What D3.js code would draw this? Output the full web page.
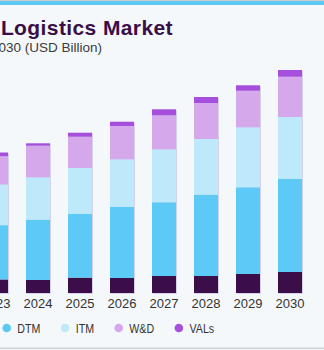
<!DOCTYPE html>
<html>
<head>
<meta charset="utf-8">
<script src="https://cdn.jsdelivr.net/npm/d3@7"></script>
<style>
    body { margin: 0; background: #f4f8fb; overflow: hidden; }
    #chart { width: 324px; height: 350px; }
</style>
</head>
<body>
<div id="chart"></div>
<script>
// market size by service, USD billion
const years = ["2023", "2024", "2025", "2026", "2027", "2028", "2029", "2030"];
const services = ["DCC", "DTM", "ITM", "W&D", "VALs"];
const dcc  = [27.0, 26.0, 30.6, 30.0, 34.0, 34.0, 38.0, 42.0];
const dtm  = [108.6, 120.6, 127.4, 142.0, 147.4, 162.6, 173.4, 186.0];
const itm  = [81.4, 84.8, 92.0, 95.4, 106.0, 111.4, 120.0, 124.0];
const wd   = [56.6, 63.2, 62.6, 66.6, 68.0, 72.0, 73.2, 80.6];
const vals = [7.4, 4.8, 8.0, 8.6, 12.0, 12.0, 10.8, 13.4];

const title = "U.S. Outsourced Logistics Market";
const subtitle = "size, by service, 2018 - 2030 (USD Billion)";

const colors = ["#3a0f48", "#5bc9f6", "#bee9fa", "#d5a8ec", "#a650dc"];

let rows = years.map((y, i) => ({
    year: y, "DCC": dcc[i], "DTM": dtm[i], "ITM": itm[i], "W&D": wd[i], "VALs": vals[i]
}));

let width = 324, height = 350;

let svg = d3.select("#chart").append("svg")
    .attr("width", width)
    .attr("height", height);

// drop shadow on the bars
let defs = svg.append("defs");
defs.append("filter")
    .attr("id", "barShadow")
    .attr("x", "-20%").attr("y", "-20%")
    .attr("width", "140%").attr("height", "140%")
    .append("feDropShadow")
    .attr("dx", 1).attr("dy", 1)
    .attr("stdDeviation", 0.6)
    .attr("flood-color", "#9c88c9")
    .attr("flood-opacity", 0.35);

// top accent band and bottom rule
svg.append("rect").attr("x", 0).attr("y", 0).attr("width", width).attr("height", 1).attr("fill", "#c9ccd0");
svg.append("rect").attr("x", 0).attr("y", 1).attr("width", width).attr("height", 4).attr("fill", "#5ec8f2");
svg.append("rect").attr("x", 0).attr("y", 347.5).attr("width", width).attr("height", 1.5).attr("fill", "#cfd2d5");

svg.append("text")
    .attr("x", 173)
    .attr("y", 35)
    .attr("text-anchor", "end")
    .style("font-family", "'Liberation Sans', Arial, sans-serif")
    .style("font-weight", "bold")
    .style("font-size", "21px")
    .style("letter-spacing", "0.4px")
    .attr("fill", "#3a0f48")
    .text(title);

svg.append("text")
    .attr("x", 102)
    .attr("y", 52)
    .attr("text-anchor", "end")
    .style("font-family", "'Liberation Sans', Arial, sans-serif")
    .style("font-size", "13.5px")
    .attr("fill", "#3b3b3b")
    .text(subtitle);

let x = d3.scaleBand()
    .domain(years)
    .range([-25, 311])
    .paddingInner(18 / 42)
    .paddingOuter(9 / 42);

let y = d3.scaleLinear()
    .domain([0, 500])
    .range([293, 43]);

let stack = d3.stack().keys(services);
let series = stack(rows);

let layers = svg.append("g")
    .attr("class", "bars")
    .style("filter", "url(#barShadow)");

layers.selectAll("g")
    .data(series)
    .enter()
    .append("g")
    .attr("fill", (d, i) => colors[i])
    .selectAll("rect")
    .data(d => d)
    .enter()
    .append("rect")
    .attr("x", d => x(d.data.year))
    .attr("y", d => y(d[1]))
    .attr("width", x.bandwidth())
    .attr("height", d => y(d[0]) - y(d[1]));

let xAxis = d3.axisBottom(x).tickSize(0).tickPadding(6);

let axisG = svg.append("g")
    .attr("class", "x-axis")
    .attr("transform", "translate(0,293)")
    .call(xAxis);

axisG.select(".domain").remove();
axisG.selectAll("text")
    .style("font-family", "'Liberation Sans', Arial, sans-serif")
    .style("font-size", "13px")
    .attr("fill", "#333");

// legend, left to right; DTM dot sits at 6.7 and DCC falls left of the view
// labels use a condensed face, squeezed horizontally
const squeeze = 0.82;
let legend = svg.append("g").attr("class", "legend");
let items = services.map((s, i) => {
    let item = legend.append("g");
    item.append("circle").attr("r", 4.3).attr("fill", colors[i]);
    let t = item.append("text")
        .attr("transform", "translate(10.6,0) scale(" + squeeze + ",1)")
        .attr("dy", "0.35em")
        .style("font-family", "'Liberation Sans', Arial, sans-serif")
        .style("font-size", "13px")
        .attr("fill", "#333")
        .text(s);
    return {item: item, w: 10.6 + t.node().getComputedTextLength() * squeeze + 24.7};
});
let lx = 6.7 - items[0].w;
items.forEach(d => {
    d.item.attr("transform", "translate(" + lx + ",328)");
    lx += d.w;
});
</script>
</body>
</html>
